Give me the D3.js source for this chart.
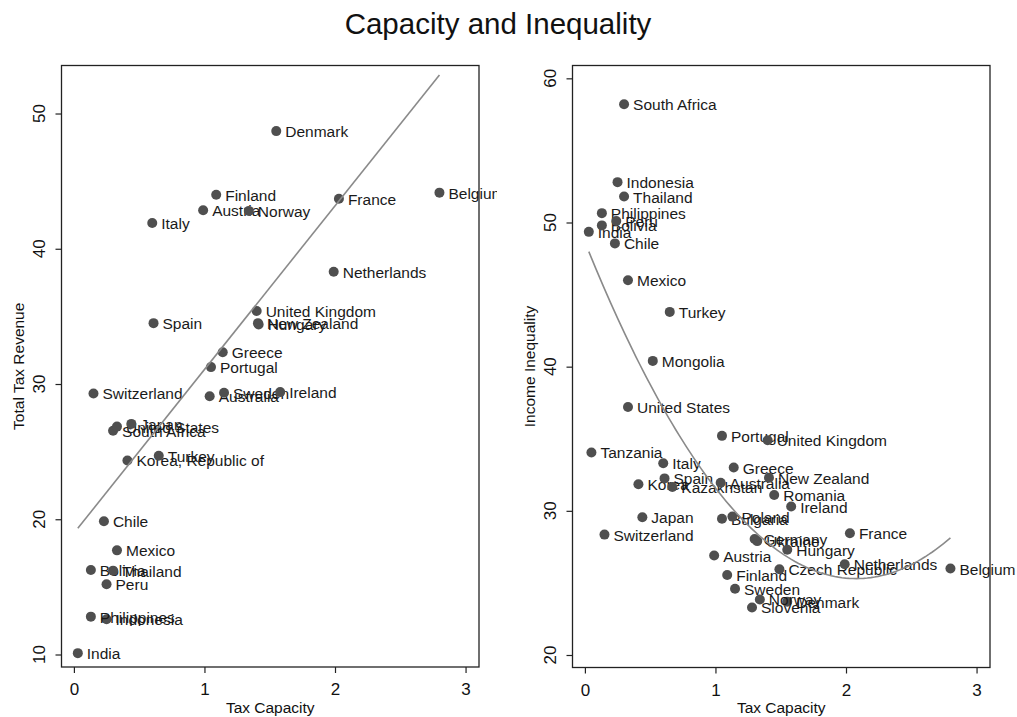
<!DOCTYPE html>
<html>
<head>
<meta charset="utf-8">
<script src="https://cdn.jsdelivr.net/npm/d3@7"></script>
<style>
    body { margin: 0; background: #fff; }
    svg text { font-family: "Liberation Sans", Arial, Helvetica, sans-serif; }
</style>
</head>
<body>
<div class="chart-container"></div>
<script>
// left panel: tax capacity vs total tax revenue
const revCountries = ['India', 'Indonesia', 'Philippines', 'Peru', 'Bolivia', 'Thailand', 'Mexico', 'Chile',
    'Korea, Republic of', 'Turkey', 'South Africa', 'United States', 'Japan', 'Switzerland', 'Australia',
    'Sweden', 'Ireland', 'Portugal', 'Greece', 'Spain', 'Hungary', 'New Zealand', 'United Kingdom',
    'Netherlands', 'Italy', 'Austria', 'Norway', 'Finland', 'France', 'Denmark', 'Belgium'];
const revCapacity = [0.03, 0.25, 0.13, 0.25, 0.13, 0.30, 0.33, 0.23,
    0.41, 0.65, 0.30, 0.33, 0.44, 0.15, 1.04,
    1.15, 1.58, 1.05, 1.14, 0.61, 1.415, 1.41, 1.40,
    1.99, 0.60, 0.99, 1.34, 1.09, 2.03, 1.55, 2.80];
const revTotal = [10.1, 12.6, 12.8, 15.2, 16.25, 16.2, 17.7, 19.85,
    24.35, 24.7, 26.55, 26.85, 27.05, 29.3, 29.1,
    29.35, 29.4, 31.25, 32.35, 34.5, 34.4, 34.5, 35.4,
    38.3, 41.9, 42.85, 42.8, 44.0, 43.7, 48.7, 44.15];

// right panel: tax capacity vs income inequality
const ineqCountries = ['India', 'Bolivia', 'Philippines', 'Peru', 'Chile', 'Indonesia', 'Thailand', 'South Africa',
    'Mexico', 'Turkey', 'Mongolia', 'United States', 'Tanzania', 'Switzerland', 'Japan', 'Korea',
    'Spain', 'Italy', 'Kazakhstan', 'Austria', 'Bulgaria', 'Poland', 'Australia', 'Portugal', 'Greece',
    'Finland', 'Sweden', 'Slovenia', 'Denmark', 'Norway', 'Germany', 'Ukraine', 'United Kingdom',
    'New Zealand', 'Romania', 'Czech Republic', 'Hungary', 'Ireland', 'Netherlands', 'France', 'Belgium'];
const ineqCapacity = [0.03, 0.13, 0.13, 0.24, 0.23, 0.25, 0.30, 0.30,
    0.33, 0.65, 0.52, 0.33, 0.05, 0.15, 0.44, 0.41,
    0.61, 0.60, 0.67, 0.99, 1.05, 1.13, 1.04, 1.05, 1.14,
    1.09, 1.15, 1.28, 1.55, 1.34, 1.30, 1.32, 1.40,
    1.41, 1.45, 1.49, 1.55, 1.58, 1.99, 2.03, 2.80];
const ineqGini = [49.35, 49.8, 50.65, 50.1, 48.55, 52.8, 51.8, 58.2,
    46.0, 43.8, 40.4, 37.2, 34.05, 28.35, 29.55, 31.85,
    32.25, 33.3, 31.65, 26.9, 29.45, 29.6, 31.95, 35.2, 33.0,
    25.55, 24.6, 23.3, 23.7, 23.85, 28.05, 27.9, 34.9,
    32.3, 31.1, 25.95, 27.3, 30.3, 26.3, 28.45, 26.0];

const xTicks = [0, 1, 2, 3];
const revTicks = [10, 20, 30, 40, 50];
const ineqTicks = [20, 30, 40, 50, 60];

const svg_width = 1017;
const svg_height = 717;
const font_label = 15.5;

const svg = d3.select('.chart-container')
    .append('svg')
    .attr('width', svg_width)
    .attr('height', svg_height);

// least squares, polynomial of given degree
function polyFit(xs, ys, degree) {
    const n = degree + 1;
    const A = d3.range(n).map(() => new Array(n + 1).fill(0));
    xs.forEach((x, k) => {
        for (let i = 0; i < n; i++) {
            for (let j = 0; j < n; j++) A[i][j] += Math.pow(x, i + j);
            A[i][n] += ys[k] * Math.pow(x, i);
        }
    });
    for (let i = 0; i < n; i++) {
        for (let r = i + 1; r < n; r++) {
            const f = A[r][i] / A[i][i];
            for (let c = i; c <= n; c++) A[r][c] -= f * A[i][c];
        }
    }
    const coef = new Array(n).fill(0);
    for (let i = n - 1; i >= 0; i--) {
        let s = A[i][n];
        for (let j = i + 1; j < n; j++) s -= A[i][j] * coef[j];
        coef[i] = s / A[i][i];
    }
    return coef;
}

function setupPanel(cfg) {
    const frame = cfg.frame;
    const xScale = d3.scaleLinear([-0.095, 3.103], [frame.left, frame.right]);
    const yScale = d3.scaleLinear(cfg.yDomain, [frame.bottom, frame.top]);

    const g = svg.append('g').attr('class', 'panel');

    //frame
    g.append('rect')
        .attr('x', frame.left)
        .attr('y', frame.top)
        .attr('width', frame.right - frame.left)
        .attr('height', frame.bottom - frame.top)
        .style('fill', 'none')
        .style('stroke', '#222')
        .style('stroke-width', 1.3);

    //x axis
    const xAxis = d3.axisBottom(xScale)
        .tickValues(xTicks)
        .tickFormat(d3.format('d'))
        .tickSizeInner(6)
        .tickSizeOuter(0)
        .tickPadding(10);
    const xAxisDraw = g.append('g')
        .attr('class', 'x axis')
        .attr('transform', `translate(0,${frame.bottom})`)
        .call(xAxis);
    xAxisDraw.select('.domain').remove();
    xAxisDraw.selectAll('line').style('stroke', '#222').style('stroke-width', 1.2);
    xAxisDraw.selectAll('text')
        .style('font-size', '17px')
        .style('font-family', '"Liberation Sans", Arial, sans-serif')
        .style('fill', '#111');

    //y axis, labels turned like the original
    const yAxis = d3.axisLeft(yScale)
        .tickValues(cfg.yTicks)
        .tickSizeInner(6)
        .tickSizeOuter(0)
        .tickFormat('');
    const yAxisDraw = g.append('g')
        .attr('class', 'y axis')
        .attr('transform', `translate(${frame.left},0)`)
        .call(yAxis);
    yAxisDraw.select('.domain').remove();
    yAxisDraw.selectAll('line').style('stroke', '#222').style('stroke-width', 1.2);
    g.selectAll('.ytick-label')
        .data(cfg.yTicks)
        .enter()
        .append('text')
        .attr('class', 'ytick-label')
        .attr('transform', d => `translate(${frame.left - 17},${yScale(d)}) rotate(-90)`)
        .attr('text-anchor', 'middle')
        .style('font-size', '17px')
        .style('fill', '#111')
        .text(d => d);

    //axis titles
    g.append('text')
        .attr('x', (frame.left + frame.right) / 2)
        .attr('y', 713)
        .attr('text-anchor', 'middle')
        .style('font-size', '15.5px')
        .style('fill', '#111')
        .text('Tax Capacity');
    g.append('text')
        .attr('transform', `translate(${frame.left - 38},${(frame.top + frame.bottom) / 2}) rotate(-90)`)
        .attr('text-anchor', 'middle')
        .style('font-size', '15.5px')
        .style('fill', '#111')
        .text(cfg.yTitle);

    //points + labels, one after the other like Stata
    const pts = cfg.names.map((name, i) => ({ name, x: cfg.xs[i], y: cfg.ys[i] }));
    const layer = g.append('g').attr('class', 'points');
    if (cfg.clip) layer.attr('clip-path', `url(#${cfg.clip})`);
    const pt = layer.selectAll('.pt')
        .data(pts)
        .enter()
        .append('g')
        .attr('class', 'pt');
    pt.append('circle')
        .attr('cx', d => xScale(d.x))
        .attr('cy', d => yScale(d.y))
        .attr('r', 5)
        .style('fill', '#4f4f4f');
    pt.append('text')
        .attr('x', d => xScale(d.x) + 9)
        .attr('y', d => yScale(d.y) + 6)
        .style('font-size', font_label + 'px')
        .style('fill', '#1a1a1a')
        .text(d => d.name);

    //fit line
    const coef = polyFit(cfg.xs, cfg.ys, cfg.degree);
    const xExtent = d3.extent(cfg.xs);
    const fitX = cfg.degree === 1 ? xExtent : d3.range(0, 101).map(k => xExtent[0] + (xExtent[1] - xExtent[0]) * k / 100);
    const fitLine = d3.line()
        .x(d => xScale(d))
        .y(d => yScale(coef.reduce((s, c, i) => s + c * Math.pow(d, i), 0)));
    g.append('path')
        .datum(fitX)
        .attr('d', fitLine)
        .style('fill', 'none')
        .style('stroke', '#8a8a8a')
        .style('stroke-width', 1.6);
}

svg.append('defs')
    .append('clipPath')
    .attr('id', 'leftClip')
    .append('rect')
    .attr('x', 0)
    .attr('y', 0)
    .attr('width', 497)
    .attr('height', svg_height);

//Draw header
svg.append('text')
    .attr('x', 498)
    .attr('y', 34)
    .attr('text-anchor', 'middle')
    .style('font-size', '29.5px')
    .style('fill', '#111')
    .text('Capacity and Inequality');

setupPanel({
    frame: { left: 61.5, right: 479, top: 65.5, bottom: 667 },
    yDomain: [9.076, 53.55],
    yTicks: revTicks,
    yTitle: 'Total Tax Revenue',
    names: revCountries,
    xs: revCapacity,
    ys: revTotal,
    degree: 1,
    clip: 'leftClip'
});

setupPanel({
    frame: { left: 572.5, right: 990, top: 65.5, bottom: 667.5 },
    yDomain: [19.133, 60.89],
    yTicks: ineqTicks,
    yTitle: 'Income Inequality',
    names: ineqCountries,
    xs: ineqCapacity,
    ys: ineqGini,
    degree: 2
});
</script>
</body>
</html>
